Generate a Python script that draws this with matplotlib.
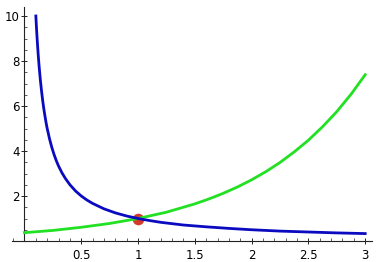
import matplotlib.pyplot as plt
from matplotlib.ticker import MultipleLocator

# blue curve
blue_x = [0.1, 0.105, 0.11, 0.115, 0.12, 0.125, 0.13, 0.14, 0.15, 0.16, 0.17, 0.18,
          0.19, 0.2, 0.22, 0.24, 0.26, 0.28, 0.3, 0.33, 0.36, 0.4, 0.45, 0.5, 0.55,
          0.6, 0.7, 0.8, 0.9, 1.0, 1.1, 1.2, 1.4, 1.6, 1.8, 2.0, 2.25, 2.5, 2.75, 3.0]
blue_y = [10.0, 9.52, 9.09, 8.7, 8.33, 8.0, 7.69, 7.14, 6.67, 6.25, 5.88, 5.56,
          5.26, 5.0, 4.55, 4.17, 3.85, 3.57, 3.33, 3.03, 2.78, 2.5, 2.22, 2.0, 1.82,
          1.67, 1.43, 1.25, 1.11, 1.0, 0.91, 0.83, 0.71, 0.63, 0.56, 0.5, 0.44, 0.4, 0.36, 0.33]

# green curve
green_x = [0.0, 0.25, 0.5, 0.75, 1.0, 1.25, 1.5, 1.625, 1.75, 1.875, 2.0, 2.125,
           2.25, 2.375, 2.5, 2.625, 2.75, 2.875, 3.0]
green_y = [0.37, 0.47, 0.61, 0.78, 1.0, 1.28, 1.65, 1.87, 2.12, 2.4, 2.72, 3.08,
           3.49, 3.96, 4.48, 5.08, 5.75, 6.52, 7.39]

# intersection point
pt_x = [1.0]
pt_y = [1.0]

fig = plt.figure(figsize=(3.87, 2.62), dpi=100)
ax = fig.add_axes([12 / 387, 21 / 262, 360 / 387, 234 / 262])

ax.scatter(pt_x, pt_y, s=70, color="#d23a2a", zorder=2, linewidths=0)
ax.plot(green_x, green_y, color="#22e022", lw=2.0, zorder=3,
        solid_joinstyle="round")
ax.plot(blue_x, blue_y, color="#0a0ac0", lw=2.0, zorder=3,
        solid_joinstyle="round")

ax.set_xlim(-0.11, 3.06)
ax.set_ylim(0, 10.4)

for side in ["top", "right"]:
    ax.spines[side].set_visible(False)
ax.spines["left"].set_position(("data", 0))
ax.spines["bottom"].set_position(("data", 0))
for side in ["left", "bottom"]:
    ax.spines[side].set_linewidth(0.8)
    ax.spines[side].set_color("#222222")

ax.set_xticks([0.5, 1, 1.5, 2, 2.5, 3])
ax.set_xticklabels(["0.5", "1", "1.5", "2", "2.5", "3"])
ax.set_yticks([2, 4, 6, 8, 10])
ax.xaxis.set_minor_locator(MultipleLocator(0.1))
ax.yaxis.set_minor_locator(MultipleLocator(0.5))
ax.tick_params(which="major", direction="inout", length=5, width=0.7,
               labelsize=8.5, colors="#222222", labelcolor="black", pad=3)
ax.tick_params(which="minor", direction="in", length=2.5, width=0.6, colors="#444444")
ax.tick_params(axis="y", pad=1)

plt.savefig("out.png", dpi=100)
